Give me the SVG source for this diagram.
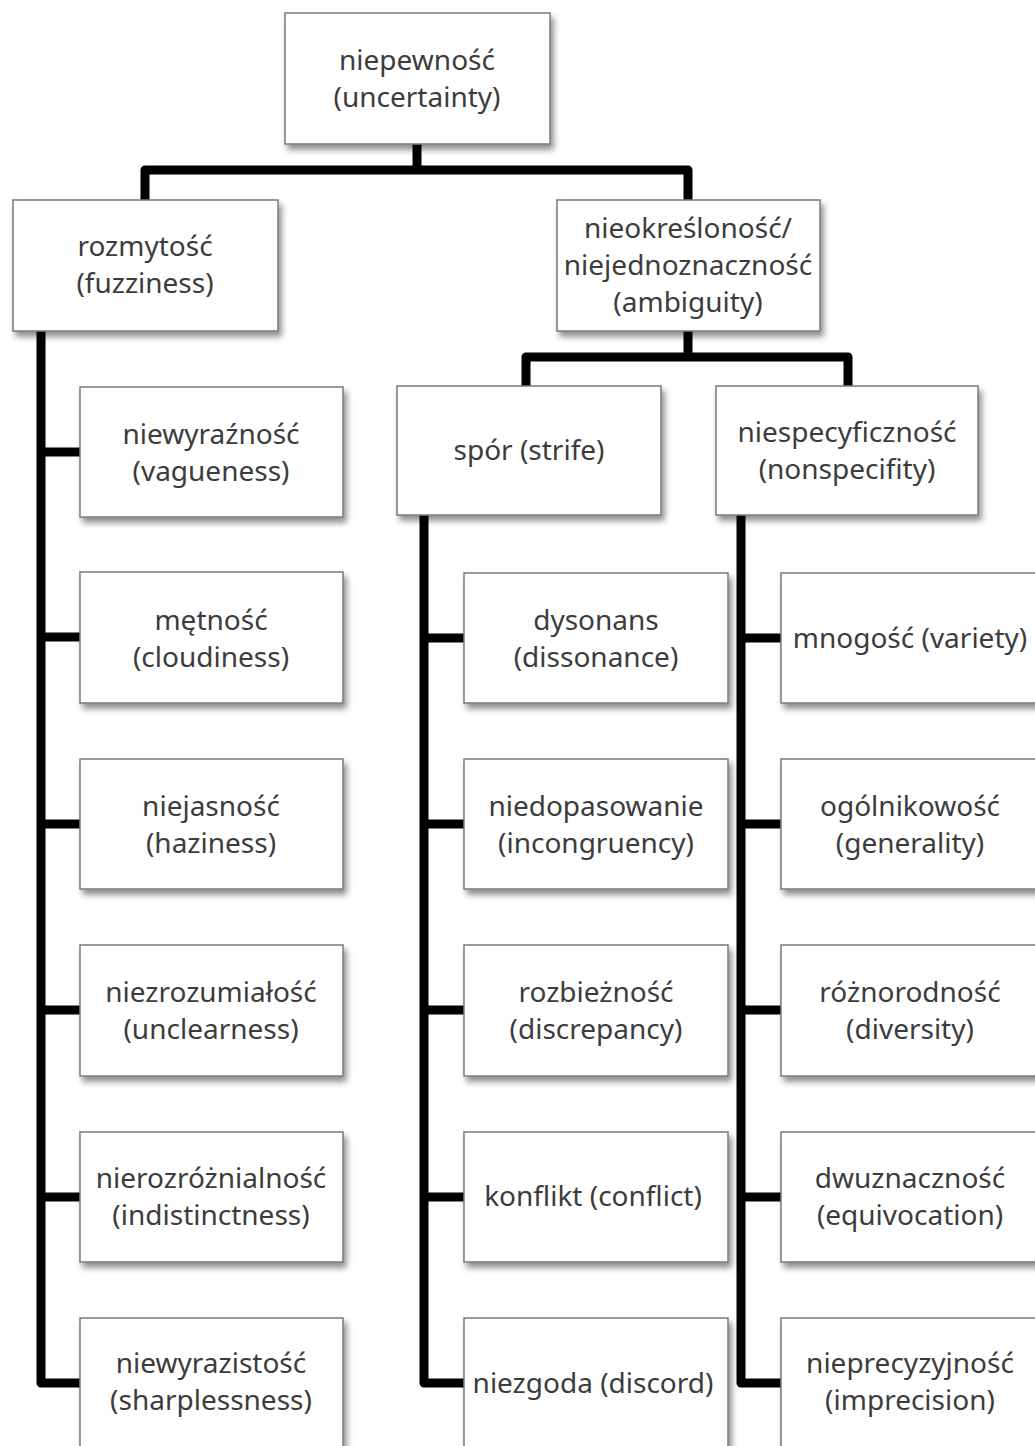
<svg xmlns="http://www.w3.org/2000/svg" width="1035" height="1446" viewBox="0 0 1035 1446">
<defs>
<filter id="sh" x="-10%" y="-10%" width="130%" height="130%">
<feDropShadow dx="3" dy="5" stdDeviation="3" flood-color="#000" flood-opacity="0.45"/>
</filter>
<style>
.box{fill:#fff;stroke:#7a7a7a;stroke-width:1.5;filter:url(#sh)}
.t{font-family:"Noto Sans","Open Sans","Liberation Sans",sans-serif;font-size:28px;fill:#3c3c3c;text-anchor:middle}
.c{fill:none;stroke:#000;stroke-width:9;stroke-linejoin:round}
</style>
</defs>
<rect width="1035" height="1446" fill="#fff"/>
<g id="connectors">
<path class="c" d="M417,144 V170"/>
<path class="c" d="M145,200 V170 H688 V200"/>
<path class="c" d="M688,331 V357"/>
<path class="c" d="M526,386 V357 H848 V386"/>
<path class="c" d="M41,331 V1383 H80"/>
<path class="c" d="M41,452 H80 M41,637 H80 M41,824 H80 M41,1010 H80 M41,1197 H80"/>
<path class="c" d="M424,515 V1383 H464"/>
<path class="c" d="M424,638 H464 M424,824 H464 M424,1010 H464 M424,1197 H464"/>
<path class="c" d="M741,515 V1383 H781"/>
<path class="c" d="M741,638 H781 M741,824 H781 M741,1010 H781 M741,1197 H781"/>
</g>
<g id="n-uncertainty"><rect class="box" x="285" y="13" width="265" height="131"/>
<text class="t" x="417" y="70">niepewność</text><text class="t" x="417" y="107">(uncertainty)</text></g>
<g id="n-fuzziness"><rect class="box" x="13" y="200" width="265" height="131"/>
<text class="t" x="145" y="256">rozmytość</text><text class="t" x="145" y="293">(fuzziness)</text></g>
<g id="n-ambiguity"><rect class="box" x="557" y="200" width="263" height="131"/>
<text class="t" x="688" y="238">nieokreśloność/</text><text class="t" x="688" y="275">niejednoznaczność</text><text class="t" x="688" y="312">(ambiguity)</text></g>
<g id="n-strife"><rect class="box" x="397" y="386" width="264" height="129"/>
<text class="t" x="529" y="460">spór (strife)</text></g>
<g id="n-nonspecifity"><rect class="box" x="716" y="386" width="262" height="129"/>
<text class="t" x="847" y="442">niespecyficzność</text><text class="t" x="847" y="479">(nonspecifity)</text></g>

<g id="n-vagueness"><rect class="box" x="80" y="387" width="263" height="130"/>
<text class="t" x="211" y="444">niewyraźność</text><text class="t" x="211" y="481">(vagueness)</text></g>
<g id="n-cloudiness"><rect class="box" x="80" y="572" width="263" height="131"/>
<text class="t" x="211" y="630">mętność</text><text class="t" x="211" y="667">(cloudiness)</text></g>
<g id="n-haziness"><rect class="box" x="80" y="759" width="263" height="130"/>
<text class="t" x="211" y="816">niejasność</text><text class="t" x="211" y="853">(haziness)</text></g>
<g id="n-unclearness"><rect class="box" x="80" y="945" width="263" height="131"/>
<text class="t" x="211" y="1002">niezrozumiałość</text><text class="t" x="211" y="1039">(unclearness)</text></g>
<g id="n-indistinctness"><rect class="box" x="80" y="1132" width="263" height="130"/>
<text class="t" x="211" y="1188">nierozróżnialność</text><text class="t" x="211" y="1225">(indistinctness)</text></g>
<g id="n-sharplessness"><rect class="box" x="80" y="1318" width="263" height="140"/>
<text class="t" x="211" y="1373">niewyrazistość</text><text class="t" x="211" y="1410">(sharplessness)</text></g>

<g id="n-dissonance"><rect class="box" x="464" y="573" width="264" height="130"/>
<text class="t" x="596" y="630">dysonans</text><text class="t" x="596" y="667">(dissonance)</text></g>
<g id="n-incongruency"><rect class="box" x="464" y="759" width="264" height="130"/>
<text class="t" x="596" y="816">niedopasowanie</text><text class="t" x="596" y="853">(incongruency)</text></g>
<g id="n-discrepancy"><rect class="box" x="464" y="945" width="264" height="131"/>
<text class="t" x="596" y="1002">rozbieżność</text><text class="t" x="596" y="1039">(discrepancy)</text></g>
<g id="n-conflict"><rect class="box" x="464" y="1132" width="264" height="130"/>
<text class="t" x="593" y="1206">konflikt (conflict)</text></g>
<g id="n-discord"><rect class="box" x="464" y="1318" width="264" height="140"/>
<text class="t" x="593" y="1393">niezgoda (discord)</text></g>

<g id="n-variety"><rect class="box" x="781" y="573" width="262" height="130"/>
<text class="t" x="910" y="648">mnogość (variety)</text></g>
<g id="n-generality"><rect class="box" x="781" y="759" width="262" height="130"/>
<text class="t" x="910" y="816">ogólnikowość</text><text class="t" x="910" y="853">(generality)</text></g>
<g id="n-diversity"><rect class="box" x="781" y="945" width="262" height="131"/>
<text class="t" x="910" y="1002">różnorodność</text><text class="t" x="910" y="1039">(diversity)</text></g>
<g id="n-equivocation"><rect class="box" x="781" y="1132" width="262" height="130"/>
<text class="t" x="910" y="1188">dwuznaczność</text><text class="t" x="910" y="1225">(equivocation)</text></g>
<g id="n-imprecision"><rect class="box" x="781" y="1318" width="262" height="140"/>
<text class="t" x="910" y="1373">nieprecyzyjność</text><text class="t" x="910" y="1410">(imprecision)</text></g>
</svg>
